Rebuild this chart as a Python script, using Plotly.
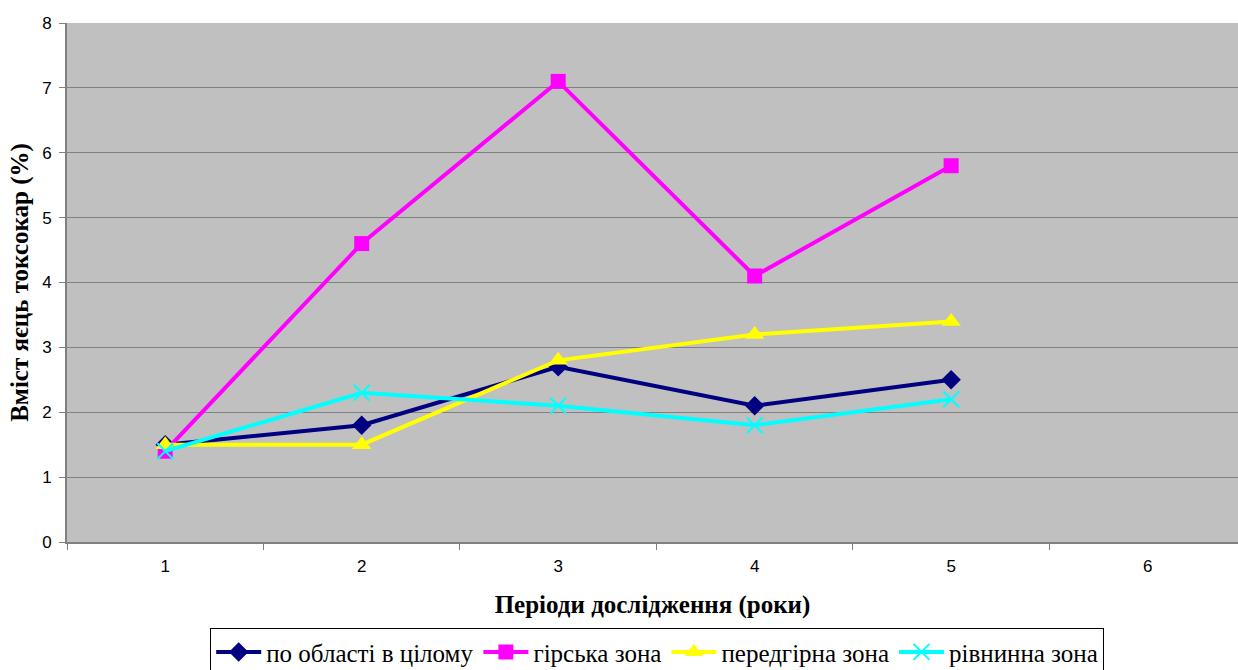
import plotly.graph_objects as go

periods = [1, 2, 3, 4, 5]
x_tick_labels = ["1", "2", "3", "4", "5", "6"]
oblast = [1.5, 1.8, 2.7, 2.1, 2.5]
hirska = [1.4, 4.6, 7.1, 4.1, 5.8]
peredhirna = [1.5, 1.5, 2.8, 3.2, 3.4]
rivnynna = [1.4, 2.3, 2.1, 1.8, 2.2]
names = ["по області в цілому", "гірська зона", "передгірна зона", "рівнинна зона"]

SERIF = "Liberation Serif, Times New Roman, serif"
SANS = "Liberation Sans, Arial, sans-serif"

fig = go.Figure()
fig.add_trace(go.Scatter(x=periods, y=oblast, name=names[0], mode="lines+markers",
                         line=dict(color="#000080", width=4),
                         marker=dict(symbol="diamond", size=15, color="#000080")))
fig.add_trace(go.Scatter(x=periods, y=hirska, name=names[1], mode="lines+markers",
                         line=dict(color="#FF00FF", width=4),
                         marker=dict(symbol="square", size=15, color="#FF00FF")))
fig.add_trace(go.Scatter(x=periods, y=peredhirna, name=names[2], mode="lines+markers",
                         line=dict(color="#FFFF00", width=4),
                         marker=dict(symbol="triangle-up", size=17, color="#FFFF00")))
fig.add_trace(go.Scatter(x=periods, y=rivnynna, name=names[3], mode="lines+markers",
                         line=dict(color="#00FFFF", width=4),
                         marker=dict(symbol="x-thin", size=16, color="#00FFFF",
                                     line=dict(color="#00FFFF", width=2))))

fig.update_layout(
    width=1238, height=690, autosize=False,
    margin=dict(l=67, r=0, t=23, b=148),
    paper_bgcolor="white", plot_bgcolor="#C0C0C0",
    showlegend=True,
    legend=dict(orientation="h", x=0.504, xanchor="center", y=-0.166, yanchor="top",
                bordercolor="black", borderwidth=1, bgcolor="white",
                font=dict(family=SERIF, size=25, color="black"),
                itemwidth=45, tracegroupgap=0),
)
fig.update_xaxes(range=[0.5, 6.46], tickvals=[1, 2, 3, 4, 5, 6], ticktext=x_tick_labels,
                 ticks="", showgrid=False, zeroline=False, automargin=False,
                 showline=True, linecolor="#808080", linewidth=2,
                 ticklabelstandoff=8,
                 tickfont=dict(family=SANS, size=17, color="black"),
                 minor=dict(tickvals=[0.5, 1.5, 2.5, 3.5, 4.5, 5.5], ticks="outside",
                            ticklen=6, tickcolor="#808080", showgrid=False),
                 title=dict(text="<b>Періоди дослідження (роки)</b>", standoff=20,
                            font=dict(family=SERIF, size=25, color="black")))
fig.update_yaxes(range=[0, 8], dtick=1, ticks="outside", ticklen=6, tickcolor="#808080",
                 showgrid=True, gridcolor="#808080", gridwidth=1, zeroline=False,
                 automargin=False,
                 showline=True, linecolor="#808080", linewidth=2,
                 ticklabelstandoff=4,
                 tickfont=dict(family=SANS, size=17, color="black"),
                 title=dict(text="<b>Вміст яєць токсокар (%)</b>", standoff=6,
                            font=dict(family=SERIF, size=25, color="black")))

fig.write_html("out.html", config={"displayModeBar": False},
               post_script="document.body.style.margin='0';document.body.style.overflow='hidden';")
